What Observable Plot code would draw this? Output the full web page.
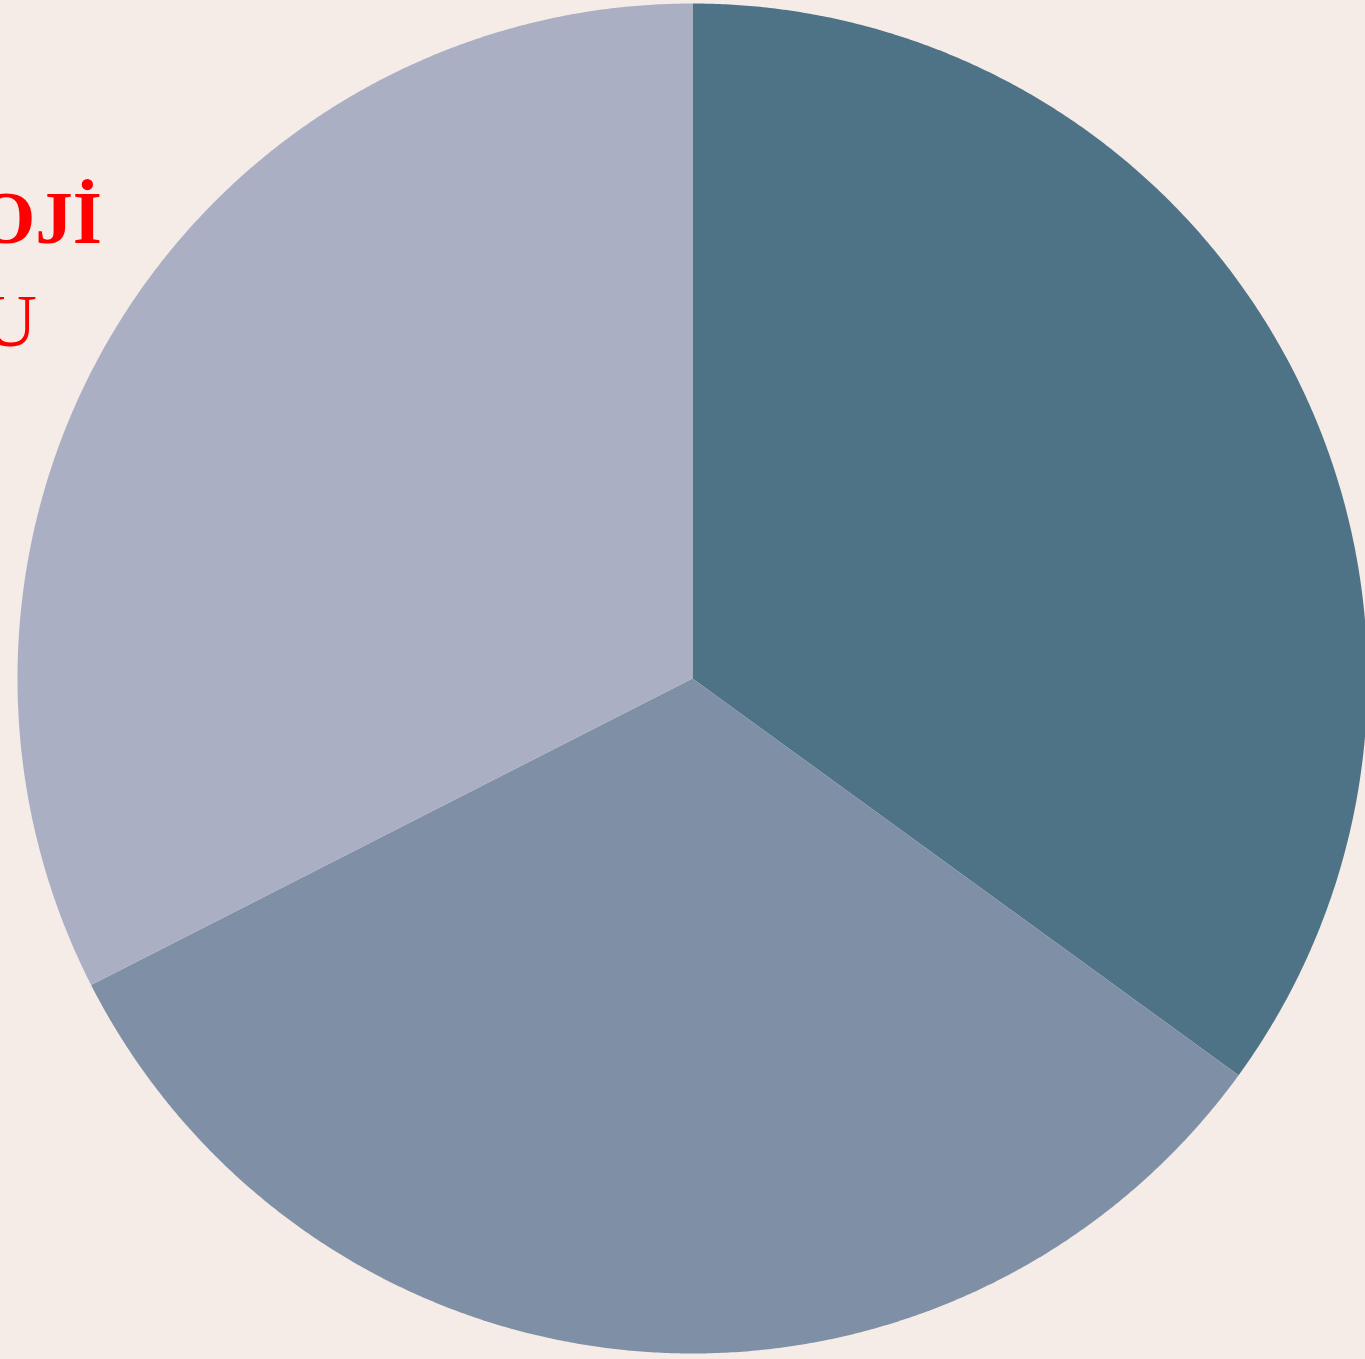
<!DOCTYPE html>
<html>
<head>
<meta charset="utf-8">
<script src="https://cdn.jsdelivr.net/npm/d3@7"></script>
<script src="https://cdn.jsdelivr.net/npm/@observablehq/plot@0.6"></script>
<style>
  html, body { margin: 0; padding: 0; background: #f5ece7; overflow: hidden; }
  #wrap { position: relative; width: 1365px; height: 1359px; }
  .lbl { position: absolute; right: calc(100% - 102px); color: #ff0000; font-family: "Liberation Serif", serif; font-size: 75px; line-height: 75px; white-space: nowrap; }
  #t1 { top: 180px; font-weight: bold; }
  #t2 { top: 283px; font-weight: normal; }
  #t2 { right: calc(100% - 37px); }
</style>
</head>
<body>
<div id="wrap"></div>
<script>
// Data
const categories = ["A", "B", "C"];
const values = [35, 32.5, 32.5];
const colors = ["#4e7387", "#7f90a6", "#aaafc4"];
const titleText = "TEKNOLOJİ";
const subtitleText = "GRUBU";

// Build slice outlines from the pie layout
const pie = d3.pie().sort(null).startAngle(0).endAngle(2 * Math.PI);
const arcs = pie(values);
const outline = [];
arcs.forEach((a, i) => {
  const cat = categories[i];
  outline.push({cat, x: 0, y: 0});
  const n = Math.max(2, Math.ceil((a.endAngle - a.startAngle) / 0.005));
  for (let k = 0; k <= n; k++) {
    const t = a.startAngle + (a.endAngle - a.startAngle) * k / n;
    outline.push({cat, x: Math.sin(t), y: Math.cos(t)});
  }
});

const W = 1365, H = 1359, cx = 692, cy = 678, R = 675;
const chart = Plot.plot({
  width: W,
  height: H,
  margin: 0,
  style: {background: "transparent"},
  x: {domain: [-cx / R, (W - cx) / R], axis: null},
  y: {domain: [-(H - cy) / R, cy / R], axis: null},
  color: {domain: categories, range: colors},
  marks: [
    Plot.line(outline, {x: "x", y: "y", z: "cat", fill: "cat", stroke: "none", curve: "linear-closed"})
  ]
});

const wrap = document.getElementById("wrap");
wrap.appendChild(chart);
const t1 = document.createElement("div");
t1.id = "t1"; t1.className = "lbl"; t1.textContent = titleText;
const t2 = document.createElement("div");
t2.id = "t2"; t2.className = "lbl"; t2.textContent = subtitleText;
wrap.appendChild(t1);
wrap.appendChild(t2);
</script>
</body>
</html>
